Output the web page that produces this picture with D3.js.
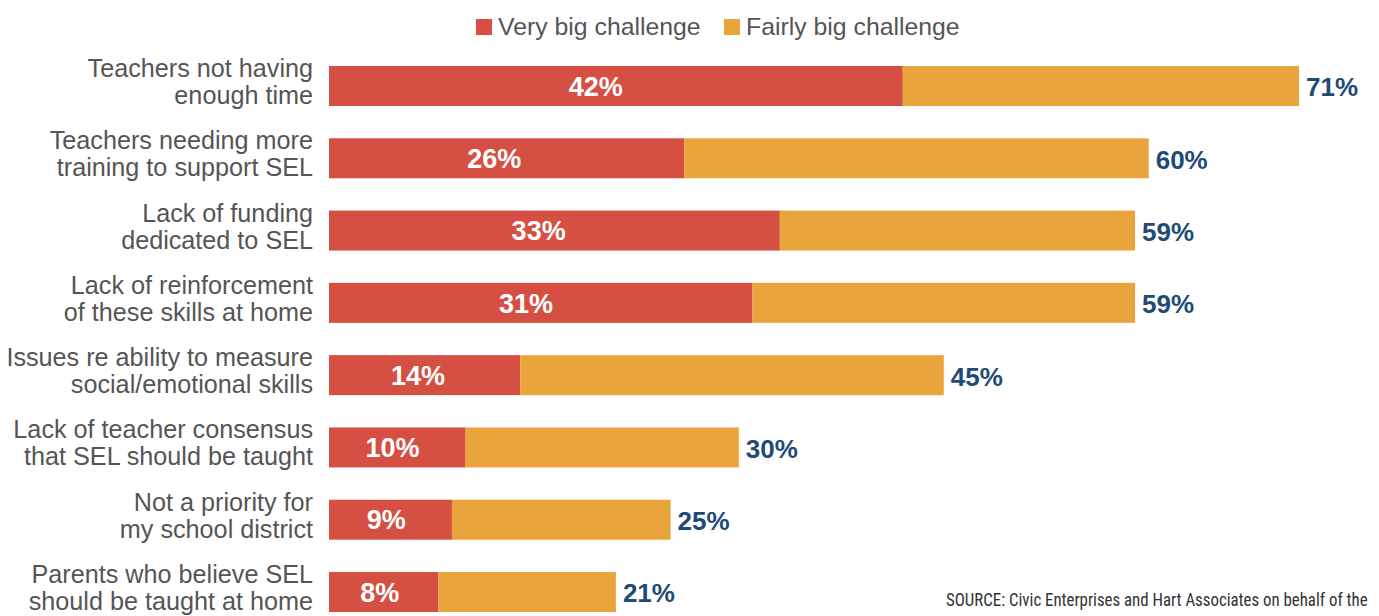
<!DOCTYPE html>
<html lang="en">
<head>
<meta charset="UTF-8">
<title>SEL challenges</title>
<script src="https://d3js.org/d3.v7.min.js"></script>
<style>
  html, body { margin: 0; padding: 0; background: #fff; }
  svg { display: block; }
</style>
</head>
<body>
<svg width="1379" height="616"></svg>
<script>
// data
const categories = [
  ["Teachers not having", "enough time"],
  ["Teachers needing more", "training to support SEL"],
  ["Lack of funding", "dedicated to SEL"],
  ["Lack of reinforcement", "of these skills at home"],
  ["Issues re ability to measure", "social/emotional skills"],
  ["Lack of teacher consensus", "that SEL should be taught"],
  ["Not a priority for", "my school district"],
  ["Parents who believe SEL", "should be taught at home"]
];
const veryBig = [42, 26, 33, 31, 14, 10, 9, 8];
const total = [71, 60, 59, 59, 45, 30, 25, 21];
const seriesNames = ["Very big challenge", "Fairly big challenge"];
const colors = ["#d64f43", "#e9a53b"];
const sourceText = "SOURCE: Civic Enterprises and Hart Associates on behalf of the";

const svg = d3.select("svg");
const font = "'Liberation Sans', Arial, Helvetica, sans-serif";

const x = d3.scaleLinear().domain([0, 71]).range([329, 1299]);
const y = d3.scaleBand()
  .domain(d3.range(categories.length))
  .range([66, 612])
  .paddingInner(0.447)
  .paddingOuter(0);

const rows = svg.append("g").selectAll("g")
  .data(categories)
  .join("g");

// very big segment
rows.append("rect")
  .attr("x", x(0))
  .attr("y", (d, i) => y(i))
  .attr("width", (d, i) => x(veryBig[i]) - x(0))
  .attr("height", y.bandwidth())
  .attr("fill", colors[0]);

// fairly big segment (rest up to total)
rows.append("rect")
  .attr("x", (d, i) => x(veryBig[i]))
  .attr("y", (d, i) => y(i))
  .attr("width", (d, i) => x(total[i]) - x(veryBig[i]))
  .attr("height", y.bandwidth())
  .attr("fill", colors[1]);

// white label inside red part
rows.append("text")
  .attr("x", (d, i) => x(0) + (x(veryBig[i]) - x(0)) * 0.465)
  .attr("y", (d, i) => y(i) + y.bandwidth() / 2)
  .attr("dy", "0.36em")
  .attr("text-anchor", "middle")
  .attr("font-family", font)
  .attr("font-weight", "bold")
  .attr("font-size", 27)
  .attr("fill", "#fff")
  .text((d, i) => veryBig[i] + "%");

// total label at the end
rows.append("text")
  .attr("x", (d, i) => x(total[i]) + 7)
  .attr("y", (d, i) => y(i) + y.bandwidth() / 2 + 1)
  .attr("dy", "0.36em")
  .attr("font-family", font)
  .attr("font-weight", "bold")
  .attr("font-size", 26)
  .attr("fill", "#1e4a76")
  .text((d, i) => total[i] + "%");

// category labels, two lines
const lab = rows.append("text")
  .attr("text-anchor", "end")
  .attr("font-family", font)
  .attr("font-size", 25.2)
  .attr("fill", "#555");
lab.selectAll("tspan")
  .data((d, i) => d.map((t, k) => ({ t, k, i })))
  .join("tspan")
  .attr("x", 313)
  .attr("y", d => y(d.i) + 11 + d.k * 27)
  .text(d => d.t);

// legend
const legend = svg.append("g").attr("transform", "translate(476,0)");
const legendX = [0, 248];
seriesNames.forEach((name, i) => {
  legend.append("rect")
    .attr("x", legendX[i])
    .attr("y", 19)
    .attr("width", 16)
    .attr("height", 16)
    .attr("fill", colors[i]);
  legend.append("text")
    .attr("x", legendX[i] + 22)
    .attr("y", 35)
    .attr("font-family", font)
    .attr("font-size", 24.8)
    .attr("fill", "#555")
    .text(name);
});

// source note, squeezed horizontally to the reference's width
const src = svg.append("text")
  .attr("x", 0)
  .attr("y", 0)
  .attr("font-family", "'Liberation Sans Narrow', 'Roboto Condensed', 'DejaVu Sans Condensed', sans-serif")
  .attr("font-size", 18)
  .attr("fill", "#333")
  .text(sourceText);
const srcW = src.node().getComputedTextLength();
const sx = Math.min(1, 422 / srcW);
src.attr("transform", `translate(946,606) scale(${sx},1)`);
</script>
</body>
</html>
